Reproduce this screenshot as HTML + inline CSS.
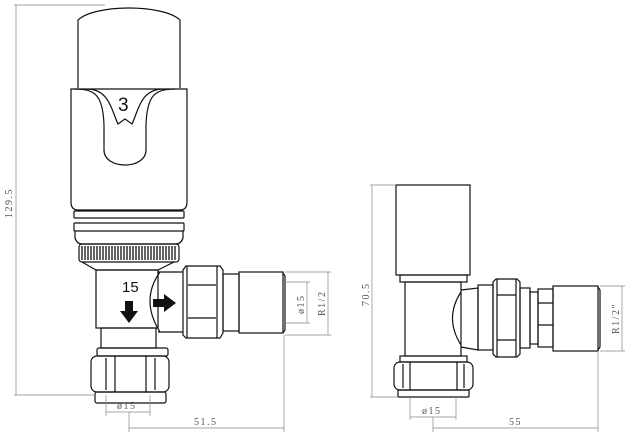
<!DOCTYPE html>
<html><head><style>html,body{margin:0;padding:0;background:#fff}svg{display:block}</style></head>
<body>
<svg width="643" height="437" viewBox="0 0 643 437" xmlns="http://www.w3.org/2000/svg" font-family="Liberation Sans, sans-serif">
<g fill="none" stroke="#111" stroke-width="1.2">
<!-- LEFT VALVE -->
<path d="M78,88 L78,20 C95,4 163,4 180,20 L180,88"/>
<path d="M71,89 L187,89 L187,202 Q187,210 180,210 L78,210 Q71,210 71,202 Z"/>
<path d="M75,89 C95,89 103,95 104,125 L104,150 C104,170 146,170 146,150 L146,125 C147,95 155,89 175,89"/>
<path d="M88,89 C110,90 112,112 118,124 L125,119 L132,124 C138,112 140,90 162,89"/>
<rect x="74" y="211" width="110" height="7" rx="1"/>
<rect x="74" y="223" width="110" height="8" rx="1"/>
<path d="M75,231 L75,238 Q77,244 82,244 L176,244 Q181,244 183,238 L183,231"/>
<rect x="79" y="244" width="100" height="18" rx="3"/>
<path d="M82,262 L96,270 L158,270 L174,262"/>
<rect x="96" y="270" width="62" height="58"/>
<path d="M160,272 Q140,300 160,332"/>
<path d="M158,272 L183,272 M158,332 L183,332"/>
<path d="M183,270 L183,335 L186,338 L220,338 L223,333 L223,270 L220,266 L186,266 Z"/>
<path d="M187,266 L187,338 M217,266 L217,338 M188,285 L216,285 M188,318 L216,318"/>
<rect x="223" y="274" width="16" height="57"/>
<rect x="239" y="272" width="44" height="61"/>
<path d="M283,273 L285,276 L285,330 L283,333"/>
<rect x="101" y="328" width="55" height="20"/>
<rect x="97" y="348" width="71" height="8" rx="2"/>
<rect x="91" y="356" width="78" height="36" rx="6"/>
<path d="M115,356 L115,392 M146,356 L146,392 M106,358 L106,390 M155,358 L155,390"/>
<rect x="95" y="392" width="71" height="11" rx="2"/>
<!-- RIGHT VALVE -->
<rect x="396" y="185" width="74" height="90"/>
<rect x="400" y="275" width="67" height="7"/>
<rect x="405" y="282" width="56" height="74"/>
<path d="M461,292 Q444,318 461,345"/>
<path d="M461,290 L478,288 L478,350 L461,347"/>
<rect x="478" y="285" width="15" height="65"/>
<path d="M493,282 L496,279 L517,279 L520,282 L520,354 L517,357 L496,357 L493,354 Z"/>
<path d="M497,279 L497,357 M516,279 L516,357 M497,295 L516,295 M497,340 L516,340"/>
<rect x="520" y="288" width="10" height="60"/>
<rect x="530" y="292" width="8" height="52"/>
<rect x="538" y="289" width="15" height="58"/>
<path d="M538,303 L553,303 M538,325 L553,325"/>
<rect x="553" y="286" width="45" height="65"/>
<path d="M598,287 L600,290 L600,347 L598,350"/>
<rect x="400" y="356" width="67" height="6"/>
<rect x="394" y="362" width="79" height="28" rx="6"/>
<path d="M410,362 L410,390 M457,362 L457,390 M403,364 L403,388 M464,364 L464,388"/>
<rect x="398" y="390" width="71" height="7" rx="1"/>
</g>
<!-- knurl -->
<g stroke="#111" stroke-width="1.3">
<path d="M82,246 V260 M85,246 V260 M88,246 V260 M91,246 V260 M94,246 V260 M97,246 V260 M100,246 V260 M103,246 V260 M106,246 V260 M109,246 V260 M112,246 V260 M115,246 V260 M118,246 V260 M121,246 V260 M124,246 V260 M127,246 V260 M130,246 V260 M133,246 V260 M136,246 V260 M139,246 V260 M142,246 V260 M145,246 V260 M148,246 V260 M151,246 V260 M154,246 V260 M157,246 V260 M160,246 V260 M163,246 V260 M166,246 V260 M169,246 V260 M172,246 V260 M175,246 V260"/>
</g>
<!-- arrows -->
<path d="M125,301 L133,301 L133,311 L138,311 L129,323 L120,311 L125,311 Z" fill="#111"/>
<path d="M153,299 L164,299 L164,294 L176,303 L164,312 L164,307 L153,307 Z" fill="#111"/>
<text x="122" y="292" font-size="15" fill="#111">15</text>
<text x="118" y="111" font-size="19" fill="#111">3</text>
<!-- dimensions -->
<g stroke="#888" stroke-width="0.7" fill="none">
<path d="M14,5 H105 M14,395 H95 M16,5 V395"/>
<path d="M106,395 V416 M150,395 V416 M106,412 H150"/>
<path d="M129,412 V432 M284,335 V432 M129,428 H284"/>
<path d="M285,282 H310 M285,323 H310 M307,282 V323"/>
<path d="M285,272 H331 M285,335 H331 M328,272 V335"/>
<path d="M370,185 H396 M370,397 H398 M372,185 V397"/>
<path d="M410,397 V420 M456,397 V420 M410,417 H456"/>
<path d="M433,417 V432 M598,351 V432 M433,428 H598"/>
<path d="M600,286 H625 M600,351 H625 M622,286 V351"/>
</g>
<g fill="#555" font-family="Liberation Serif, serif" font-size="10" letter-spacing="1.5">
<text x="12" y="218" transform="rotate(-90 12 218)">129.5</text>
<text x="117" y="409">ø15</text>
<text x="194" y="425">51.5</text>
<text x="304" y="314" transform="rotate(-90 304 314)">ø15</text>
<text x="325" y="316" transform="rotate(-90 325 316)">R1/2</text>
<text x="369" y="306" transform="rotate(-90 369 306)">70.5</text>
<text x="422" y="414">ø15</text>
<text x="509" y="425">55</text>
<text x="619" y="334" transform="rotate(-90 619 334)">R1/2"</text>
</g>
</svg>
</body></html>
